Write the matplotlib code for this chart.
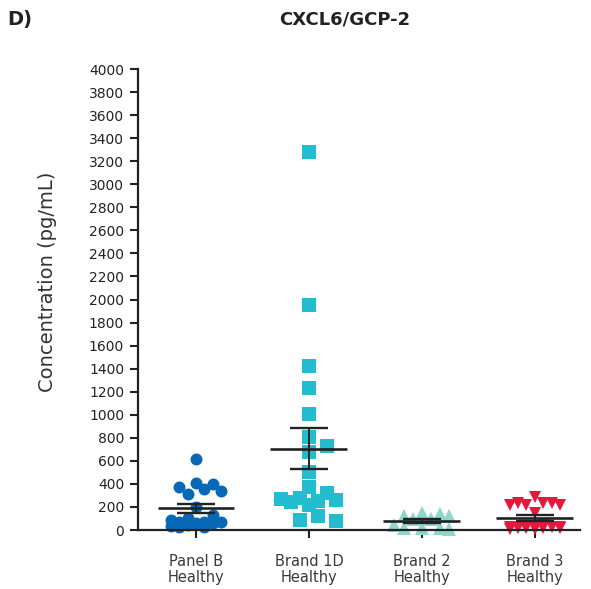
import numpy as np
import matplotlib
matplotlib.use("Agg")
import matplotlib.pyplot as plt

# ---- data ----
categories = ["Panel B\nHealthy", "Brand 1D\nHealthy", "Brand 2\nHealthy", "Brand 3\nHealthy"]
panel_b = [620, 410, 400, 370, 355, 340, 310, 200, 130, 105, 87, 70, 70, 70, 60, 60, 35, 30, 26, 40]
brand_1d = [3280, 1950, 1420, 1230, 1010, 810, 730, 680, 500, 370, 320, 280, 270, 260, 250, 240, 220, 120, 90, 80]
brand_2 = [150, 140, 120, 120, 95, 95, 45, 20, 17, 15, 10]
brand_3 = [290, 235, 235, 230, 220, 215, 215, 145, 40, 35, 30, 30, 25, 25, 20, 20, 15, 15, 10, 10]
series = [panel_b, brand_1d, brand_2, brand_3]
yticks = list(range(0, 4001, 200))

colors = ["#0868B8", "#22BECF", "#8FD6CD", "#E8173C"]
markers = ["o", "s", "^", "v"]
msizes = [8.6, 9.4, 9.4, 8.6]

fig = plt.figure(figsize=(5.91, 5.89), dpi=100)
ax = fig.add_axes([138/591, 1-530/589, (580-138)/591, (530-69)/589])
ax.set_xlim(-0.513, 3.4)
ax.set_ylim(0, 4000)

fig.canvas.draw()
trans = ax.transData


def grid_swarm(vals, xc, d, halfwidth=28.0):
    """Greedy scatter layout on a horizontal grid (step 0.7 marker),
    placing points from the top down, limited to a fixed half width."""
    pts = trans.transform(np.column_stack([np.full(len(vals), xc), vals]))
    ypix = pts[:, 1]
    x0 = pts[0, 0]
    step = 0.7 * d
    nmax = int(halfwidth // step)
    cand = [0.0]
    for k in range(1, nmax + 1):
        cand += [k * step, -k * step]
    sep = 1.05 * d
    placed = []
    offs = np.zeros(len(vals))
    for i in np.argsort(-ypix, kind="stable"):
        y = ypix[i]
        best, bestscore = None, -1
        for c in cand:
            if placed:
                dmin = min(np.hypot(c - px, y - py) for px, py in placed)
            else:
                dmin = np.inf
            if dmin >= sep:
                best = c
                break
            if dmin > bestscore:
                bestscore, best = dmin, c
        offs[i] = best
        placed.append((best, y))
    xs = trans.inverted().transform(np.column_stack([x0 + offs, ypix]))[:, 0]
    return xs


dark = "#222222"
for i, vals in enumerate(series):
    vals = np.array(vals, dtype=float)
    d = msizes[i] * 100 / 72
    xs = grid_swarm(vals, i, d)
    ax.plot(xs, vals, linestyle="none", marker=markers[i], ms=msizes[i],
            color=colors[i], markeredgewidth=0, zorder=2, clip_on=False)
    m = vals.mean()
    sem = vals.std(ddof=1) / np.sqrt(len(vals))
    ax.plot([i - 0.34, i + 0.34], [m, m], color=dark, lw=1.9, zorder=3, solid_capstyle="butt")
    ax.plot([i - 0.17, i + 0.17], [m + sem, m + sem], color=dark, lw=1.7, zorder=3, solid_capstyle="butt")
    ax.plot([i - 0.17, i + 0.17], [m - sem, m - sem], color=dark, lw=1.7, zorder=3, solid_capstyle="butt")
    ax.plot([i, i], [m - sem, m + sem], color=dark, lw=1.4, zorder=3)

ax.set_yticks(yticks)
ax.set_yticklabels([str(t) for t in yticks])
ax.set_xticks(range(len(categories)))
ax.set_xticklabels(categories, fontsize=10.5, color="#3a3a3a", linespacing=1.1)
ax.tick_params(axis="y", labelsize=10, length=6, width=1.5, color=dark, labelcolor=dark, pad=4)
ax.tick_params(axis="x", length=6, width=1.5, color=dark, pad=11)

for s in ["top", "right"]:
    ax.spines[s].set_visible(False)
for s in ["left", "bottom"]:
    ax.spines[s].set_linewidth(1.6)
    ax.spines[s].set_color(dark)

fig.text(47.5/591, 1-281.5/589, "Concentration (pg/mL)", rotation=90, ha="center", va="center",
         fontsize=14, color="#333333")

fig.text(345/591, 1-20/589, "CXCL6/GCP-2", ha="center", va="center", fontsize=13,
         fontweight="bold", color="#222222")
fig.text(7/591, 1-20/589, "D)", ha="left", va="center", fontsize=14,
         fontweight="bold", color="#222222")

fig.savefig("out.png", dpi=100)
